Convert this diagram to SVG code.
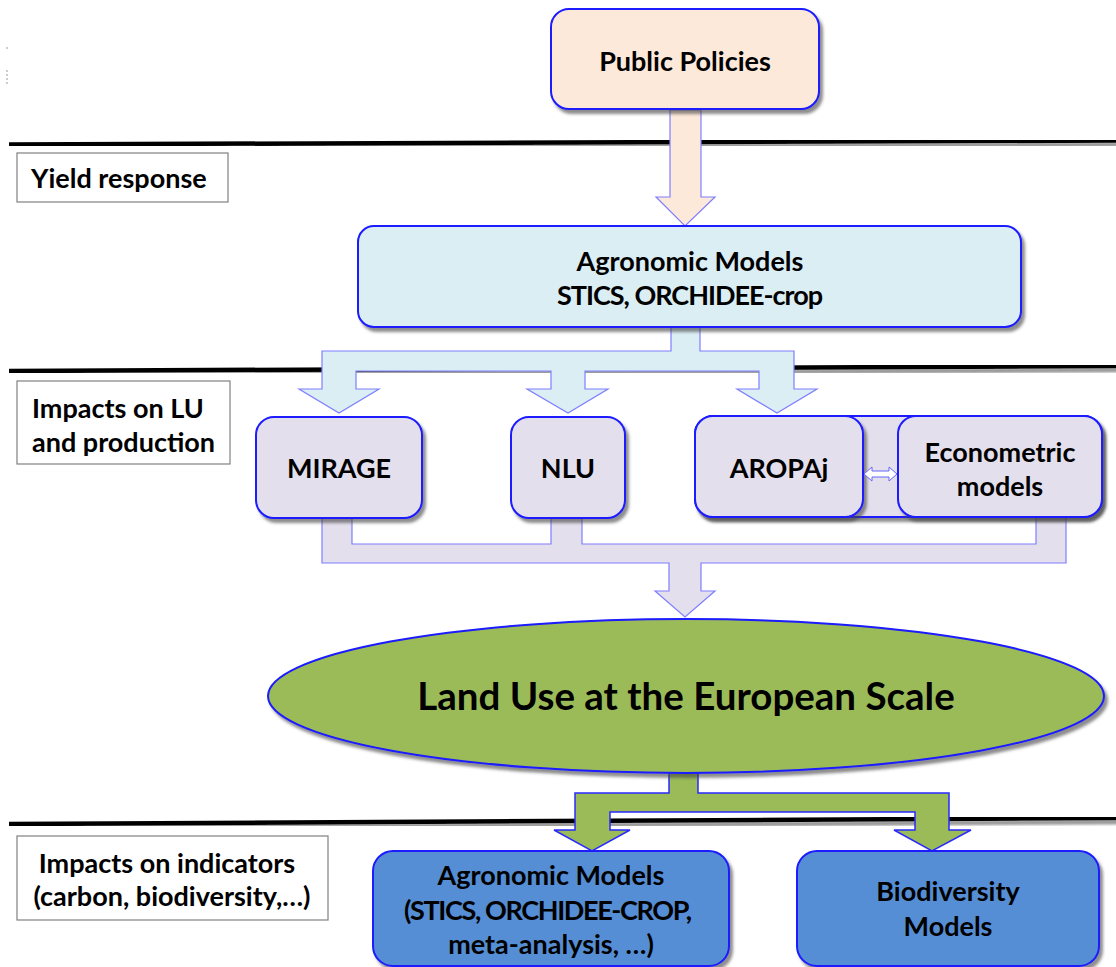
<svg xmlns="http://www.w3.org/2000/svg" width="1116" height="967" viewBox="0 0 1116 967">
<defs>
<filter id="sh" x="-10%" y="-10%" width="130%" height="140%">
<feDropShadow dx="3" dy="4" stdDeviation="1.5" flood-color="#404040" flood-opacity="0.6"/>
</filter>
<style>
.t{font-family:Lato,"Open Sans","Liberation Sans",sans-serif;font-weight:bold;fill:#000;font-size:27px}
.c{text-anchor:middle}
.box{stroke:#1a1aff;stroke-width:2;filter:url(#sh)}
.lbl{fill:#fff;stroke:#808080;stroke-width:1.2}
.sep{stroke:#000;stroke-width:4.5;filter:url(#sh)}
.conn{stroke:#7f7fff;stroke-width:1.2}
</style>
</defs>
<rect width="1116" height="967" fill="#fff"/>
<line x1="7" y1="47" x2="7" y2="49" stroke="#999" stroke-width="1"/>
<line x1="7" y1="70" x2="7" y2="84" stroke="#999" stroke-width="1" stroke-dasharray="2,2"/>
<g id="separators">
<line class="sep" x1="9" y1="144.5" x2="1116" y2="140.5"/>
<line class="sep" x1="9" y1="371" x2="1116" y2="366"/>
<line class="sep" x1="9" y1="824" x2="1116" y2="818"/>
</g>
<g id="labels">
<g id="lbl-yield"><rect class="lbl" x="17" y="153" width="211" height="49"/><text class="t" x="31" y="188">Yield response</text></g>
<g id="lbl-lu"><rect class="lbl" x="17" y="381" width="213" height="83"/><text class="t" x="32" y="418">Impacts on LU</text><text class="t" x="32" y="452">and production</text></g>
<g id="lbl-ind"><rect class="lbl" x="17" y="836" width="311" height="84"/><text class="t c" x="167" y="873">Impacts on indicators</text><text class="t c" x="172" y="906">(carbon, biodiversity,…)</text></g>
</g>
<g id="connectors">
<path class="conn" fill="#fde9d9" d="M670,110 L701,110 L701,197 L715,197 L685,226 L656,197 L670,197 Z"/>
<path class="conn" fill="#dbeef4" d="M671,320 L700,320 L700,351 L794,351 L794,389 L817,389 L777,413 L737,389 L759,389 L759,371 L585,371 L585,389 L608,389 L568,413 L527,389 L551,389 L551,371 L356,371 L356,389 L379,389 L339,413 L299,389 L322,389 L322,351 L671,351 Z"/>
<path class="conn" fill="#e4dfec" d="M322,512 L352,512 L352,544 L551,544 L551,512 L582,512 L582,544 L1036,544 L1036,512 L1066,512 L1066,563 L701,563 L701,591 L715,591 L685,617 L655,591 L669,591 L669,563 L322,563 Z"/>
<path fill="#9bbb59" stroke="#2a2aff" stroke-width="1.5" d="M669,765 L698,765 L698,793 L949,793 L949,830 L971,830 L932,851 L894,830 L915,830 L915,812 L610,812 L610,830 L630,830 L592,851 L554,830 L575,830 L575,793 L669,793 Z"/>
</g>
<g id="public-policies"><rect class="box" x="551" y="9" width="268" height="100" rx="18" fill="#fde9d9"/><text class="t c" x="685" y="71">Public Policies</text></g>
<g id="agronomic-models"><rect class="box" x="358" y="226" width="663" height="101" rx="16" fill="#dbeef4"/><text class="t c" x="690" y="271">Agronomic Models</text><text class="t c" x="690" y="305" textLength="266">STICS, ORCHIDEE-crop</text></g>
<g id="mirage"><rect class="box" x="256" y="417" width="166" height="101" rx="18" fill="#e4dfec"/><text class="t c" x="339" y="478">MIRAGE</text></g>
<g id="nlu"><rect class="box" x="511" y="417" width="114" height="101" rx="18" fill="#e4dfec"/><text class="t c" x="568" y="478">NLU</text></g>
<g id="aropaj-group"><rect class="box" x="695" y="416" width="407" height="101" rx="18" fill="#e4dfec"/></g>
<g id="aropaj"><rect class="box" x="695" y="416" width="168" height="101" rx="18" fill="#e4dfec"/><text class="t c" x="779" y="478">AROPAj</text></g>
<g id="econometric"><rect class="box" x="898" y="416" width="204" height="101" rx="18" fill="#e4dfec"/><text class="t c" x="1000" y="462">Econometric</text><text class="t c" x="1000" y="496">models</text></g>
<g id="connector-bidir"><path fill="#fff" stroke="#6666ff" stroke-width="1" d="M864,474 L872,467 L872,471 L889,471 L889,467 L897,474 L889,481 L889,477 L872,477 L872,481 Z"/></g>
<g id="land-use"><ellipse class="box" cx="686" cy="696" rx="418" ry="77" fill="#9bbb59"/><text class="t c" x="686" y="710" style="font-size:38.5px">Land Use at the European Scale</text></g>
<g id="agronomic-models-2"><rect class="box" x="373" y="851" width="356" height="115" rx="20" fill="#558ed5"/><text class="t c" x="551" y="885">Agronomic Models</text><text class="t c" x="548" y="920" textLength="288">(STICS, ORCHIDEE-CROP,</text><text class="t c" x="551" y="954">meta-analysis, …)</text></g>
<g id="biodiversity"><rect class="box" x="797" y="851" width="302" height="115" rx="20" fill="#558ed5"/><text class="t c" x="948" y="901">Biodiversity</text><text class="t c" x="948" y="936">Models</text></g>
</svg>
